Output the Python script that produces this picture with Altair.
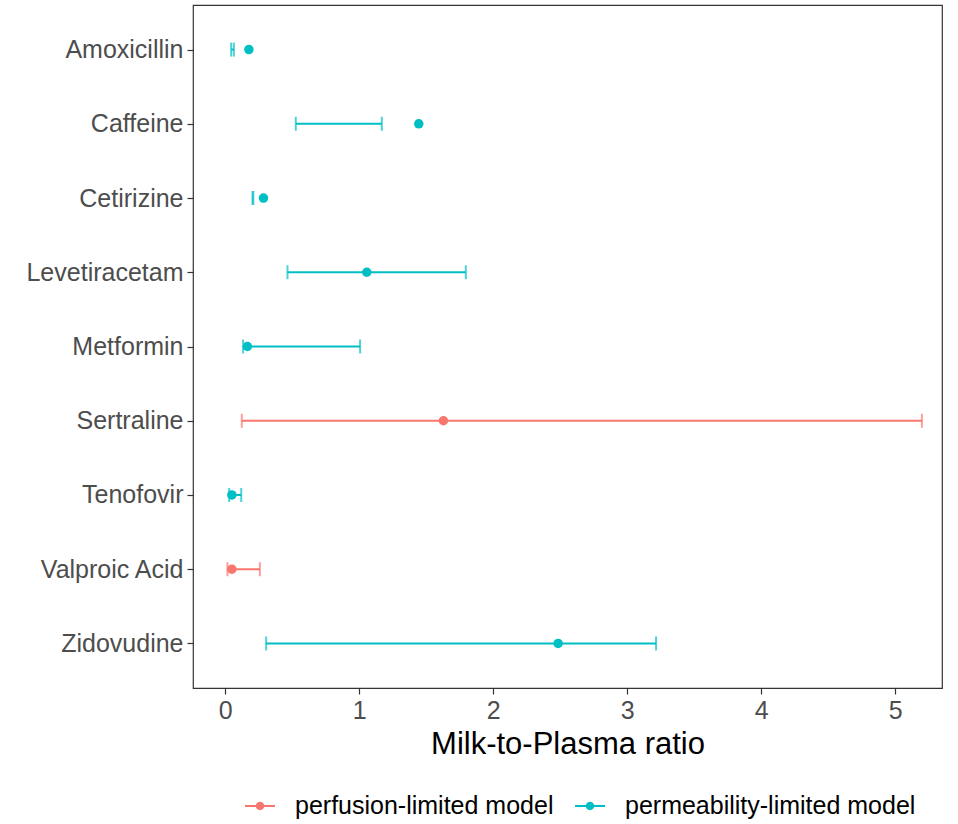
import altair as alt
import pandas as pd

drugs = ["Amoxicillin", "Caffeine", "Cetirizine", "Levetiracetam", "Metformin",
         "Sertraline", "Tenofovir", "Valproic Acid", "Zidovudine"]
models = ["permeability-limited model", "permeability-limited model", "permeability-limited model",
          "permeability-limited model", "permeability-limited model", "perfusion-limited model",
          "permeability-limited model", "perfusion-limited model", "permeability-limited model"]
point_vals = [0.177, 1.445, 0.286, 1.057, 0.166, 1.629, 0.05, 0.05, 2.485]
lower_vals = [0.045, 0.527, 0.204, 0.465, 0.134, 0.124, 0.03, 0.017, 0.306]
upper_vals = [0.065, 1.169, 0.210, 1.796, 1.007, 5.20, 0.12, 0.259, 3.216]

legend_order = ["perfusion-limited model", "permeability-limited model"]
palette = ["#F8766D", "#00BFC4"]

df = pd.DataFrame({"drug": drugs, "model": models, "mp": point_vals,
                   "lo": lower_vals, "hi": upper_vals})

FONT = "Liberation Sans"

y_enc = alt.Y("drug:N", sort=drugs, title=None,
              scale=alt.Scale(type="point", padding=0.6),
              axis=alt.Axis(labelFontSize=25, labelColor="#4D4D4D", labelFont=FONT,
                            tickSize=6, tickColor="#333333", tickWidth=1.2,
                            labelPadding=4, domain=False, grid=False))
x_scale = alt.Scale(domain=[-0.24, 5.35], nice=False, zero=False)
x_axis = alt.Axis(values=[0, 1, 2, 3, 4, 5], labelFontSize=25, labelColor="#4D4D4D",
                  labelFont=FONT, tickSize=6, tickColor="#333333", tickWidth=1.2,
                  labelPadding=4, domain=False, grid=False, title="Milk-to-Plasma ratio",
                  titleFontSize=31, titleFont=FONT, titleFontWeight="normal",
                  titleColor="#000000", titlePadding=6)
col_scale = alt.Scale(domain=legend_order, range=palette)

# legend glyph: a short horizontal bar with a dot on it (filled shape)
glyph = ("M-1,-0.07L1,-0.07L1,0.07L-1,0.07Z"
         "M-0.28,0A0.28,0.28,0,1,1,0.28,0A0.28,0.28,0,1,1,-0.28,0Z")

base = alt.Chart(df)

rules = base.mark_rule(strokeWidth=2).encode(
    y=y_enc,
    x=alt.X("lo:Q", scale=x_scale, axis=x_axis),
    x2="hi:Q",
    color=alt.Color("model:N", scale=col_scale, legend=None),
)
caps_lo = base.mark_tick(size=14, thickness=2).encode(
    y=y_enc, x=alt.X("lo:Q", scale=x_scale, axis=x_axis),
    color=alt.Color("model:N", scale=col_scale, legend=None),
)
caps_hi = base.mark_tick(size=14, thickness=2).encode(
    y=y_enc, x=alt.X("hi:Q", scale=x_scale, axis=x_axis),
    color=alt.Color("model:N", scale=col_scale, legend=None),
)
legend = alt.Legend(title=None, orient="none", direction="horizontal",
                    legendX=51, legendY=785,
                    symbolType=glyph, symbolSize=900, labelOffset=19,
                    labelFontSize=25, labelFont=FONT, labelColor="#000000",
                    labelLimit=500, columnPadding=20, symbolOpacity=1)
points = base.mark_circle(size=90, opacity=1).encode(
    y=y_enc, x=alt.X("mp:Q", scale=x_scale, axis=x_axis),
    color=alt.Color("model:N", scale=col_scale, legend=legend),
)

chart = alt.layer(rules, caps_lo, caps_hi, points).resolve_legend(
    color="independent"
).properties(
    width=749, height=683,
    background="white",
    autosize=alt.AutoSizeParams(type="none"),
    padding={"left": 193, "top": 5, "right": 16, "bottom": 136},
).configure_view(stroke="#333333", strokeWidth=1.2)

chart.save("out.html", embed_options={"renderer": "svg", "actions": False})
